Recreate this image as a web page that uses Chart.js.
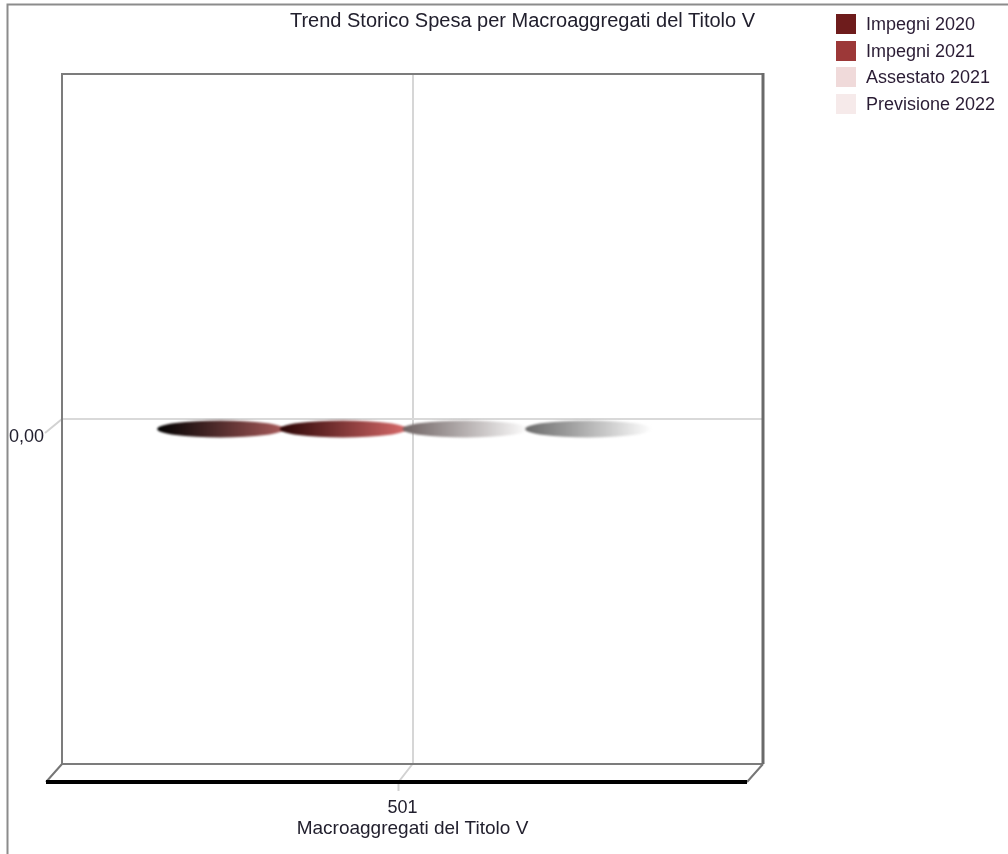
<!DOCTYPE html>
<html>
<head>
<meta charset="utf-8">
<script src="https://cdn.jsdelivr.net/npm/chart.js@4"></script>
<style>
  body { margin: 0; width: 1008px; height: 854px; overflow: hidden; background: #fff; position: relative; }
  #title { position: absolute; left: 0; width: 1045px; top: 8px; text-align: center; font: 20px/24px "Liberation Sans", Arial, sans-serif; color: #22202e; white-space: nowrap; }
  #legend { position: absolute; left: 836px; top: 14px; font: 18px "Liberation Sans", Arial, sans-serif; color: #2a1c34; white-space: nowrap; }
  #legend div { height: 26.5px; display: flex; align-items: flex-start; }
  #legend span.box { width: 20px; height: 20px; margin-right: 10px; display: inline-block; }
  #legend span.txt { line-height: 20px; }
</style>
</head>
<body>
<canvas id="chart" width="1008" height="854"></canvas>
<div id="title">Trend Storico Spesa per Macroaggregati del Titolo V</div>
<div id="legend"></div>
<script>
const categories = ["501"];
const seriesLabels = ["Impegni 2020", "Impegni 2021", "Assestato 2021", "Previsione 2022"];
const impegni2020 = [0];
const impegni2021 = [0];
const assestato2021 = [0];
const previsione2022 = [0];
const yTicks = [0];
const yTickLabels = ["0,00"];

const legendColors = ["#6e1c1c", "#9c3838", "#f0dada", "#f6eaea"];
// left -> right shade of each flat (zero height) cylinder top
const ellipseShades = [
    ["#000000", "#a85a5a"],
    ["#2a0404", "#d86a6a"],
    ["#6e6262", "#ffffff"],
    ["#6a6a6a", "#ffffff"]
];

const FONT = "'Liberation Sans', Arial, sans-serif";
const TEXT = "#22202e";
const depth = { x: -16, y: 18 };

const legend = document.getElementById("legend");
seriesLabels.forEach((name, i) => {
    const row = document.createElement("div");
    row.innerHTML = `<span class="box" style="background:${legendColors[i]}"></span><span class="txt">${name}</span>`;
    legend.appendChild(row);
});

const frame3d = {
    id: "frame3d",
    beforeDraw(chart) {
        const ctx = chart.ctx;
        ctx.save();
        ctx.strokeStyle = "#8c8c8c";
        ctx.lineWidth = 2;
        ctx.beginPath();
        ctx.moveTo(7.5, 854);
        ctx.lineTo(7.5, 4.5);
        ctx.lineTo(1008, 4.5);
        ctx.stroke();
        ctx.restore();
    },
    beforeDatasetsDraw(chart) {
        const ctx = chart.ctx;
        const a = chart.chartArea;
        const x = chart.scales.x, y = chart.scales.y;
        ctx.save();
        // slanted tick continuations toward the front plane
        ctx.strokeStyle = "#d2d2d2";
        ctx.lineWidth = 2;
        yTicks.forEach(v => {
            const py = y.getPixelForValue(v);
            ctx.beginPath();
            ctx.moveTo(a.left, py);
            ctx.lineTo(a.left - 17, py + 14);
            ctx.stroke();
        });
        categories.forEach((c, i) => {
            const px = x.getPixelForValue(i);
            ctx.beginPath();
            ctx.moveTo(px, a.bottom);
            ctx.lineTo(px + depth.x + 2, a.bottom + depth.y);
            ctx.lineTo(px + depth.x + 2, a.bottom + depth.y + 9);
            ctx.stroke();
        });
        // back walls
        ctx.strokeStyle = "#7c7c7c";
        ctx.lineWidth = 2;
        ctx.beginPath();
        ctx.moveTo(a.left, a.bottom);
        ctx.lineTo(a.left, a.top);
        ctx.lineTo(a.right, a.top);
        ctx.stroke();
        ctx.beginPath();
        ctx.moveTo(a.left, a.bottom);
        ctx.lineTo(a.right, a.bottom);
        ctx.stroke();
        ctx.strokeStyle = "#6a6a6a";
        ctx.lineWidth = 3;
        ctx.beginPath();
        ctx.moveTo(a.right, a.top - 1);
        ctx.lineTo(a.right, a.bottom);
        ctx.stroke();
        // floor
        ctx.strokeStyle = "#767676";
        ctx.lineWidth = 2;
        ctx.beginPath();
        ctx.moveTo(a.left, a.bottom);
        ctx.lineTo(a.left + depth.x, a.bottom + depth.y);
        ctx.moveTo(a.right, a.bottom);
        ctx.lineTo(a.right + depth.x, a.bottom + depth.y);
        ctx.stroke();
        ctx.strokeStyle = "#000";
        ctx.lineWidth = 4;
        ctx.beginPath();
        ctx.moveTo(a.left + depth.x, a.bottom + depth.y);
        ctx.lineTo(a.right + depth.x, a.bottom + depth.y);
        ctx.stroke();
        ctx.restore();
    },
    afterDatasetsDraw(chart) {
        const ctx = chart.ctx;
        chart.data.datasets.forEach((ds, di) => {
            const meta = chart.getDatasetMeta(di);
            meta.data.forEach(bar => {
                const cx = bar.x + depth.x / 2;
                const cy = bar.y + depth.y / 2 + 1;
                const rx = bar.width / 2 + 2;
                const g = ctx.createLinearGradient(cx - rx, 0, cx + rx, 0);
                g.addColorStop(0, ellipseShades[di][0]);
                g.addColorStop(1, ellipseShades[di][1]);
                ctx.save();
                ctx.filter = "blur(0.8px)";
                ctx.fillStyle = g;
                ctx.beginPath();
                ctx.ellipse(cx, cy, rx, 8.5, 0, 0, Math.PI * 2);
                ctx.fill();
                ctx.restore();
            });
        });
    }
};

const series = [impegni2020, impegni2021, assestato2021, previsione2022];

new Chart(document.getElementById("chart"), {
    type: "bar",
    data: {
        labels: categories,
        datasets: series.map((values, i) => ({
            label: seriesLabels[i],
            data: values,
            backgroundColor: legendColors[i],
            borderWidth: 0,
            categoryPercentage: 0.7,
            barPercentage: 1
        }))
    },
    options: {
        responsive: false,
        animation: false,
        layout: { padding: { left: 0, right: 0, top: 74, bottom: 0 } },
        plugins: {
            legend: { display: false },
            tooltip: { enabled: false },
            title: { display: false }
        },
        scales: {
            x: {
                grid: { offset: false, color: "#d6d6d6", lineWidth: 2, drawTicks: false },
                border: { display: false },
                ticks: { color: TEXT, font: { family: FONT, size: 18 }, padding: 33, labelOffset: -10 },
                title: {
                    display: true,
                    text: "Macroaggregati del Titolo V",
                    color: TEXT,
                    font: { family: FONT, size: 19 },
                    padding: { top: 0, bottom: 14 }
                },
                afterFit(s) { s.height = 90; }
            },
            y: {
                min: -1,
                max: 1,
                grid: { color: "#d9d9d9", lineWidth: 2, drawTicks: false },
                border: { display: false },
                ticks: {
                    color: TEXT,
                    font: { family: FONT, size: 18 },
                    padding: 18,
                    labelOffset: 18,
                    callback: (v, i) => yTickLabels[i]
                },
                afterBuildTicks(s) { s.ticks = yTicks.map(v => ({ value: v })); },
                afterFit(s) { s.width = 62; }
            },
            // empty right box that keeps the legend column free
            pad: {
                type: "linear",
                position: "right",
                grid: { display: false },
                border: { display: false },
                ticks: { display: false },
                afterFit(s) { s.width = 245; }
            }
        }
    },
    plugins: [frame3d]
});
</script>
</body>
</html>
